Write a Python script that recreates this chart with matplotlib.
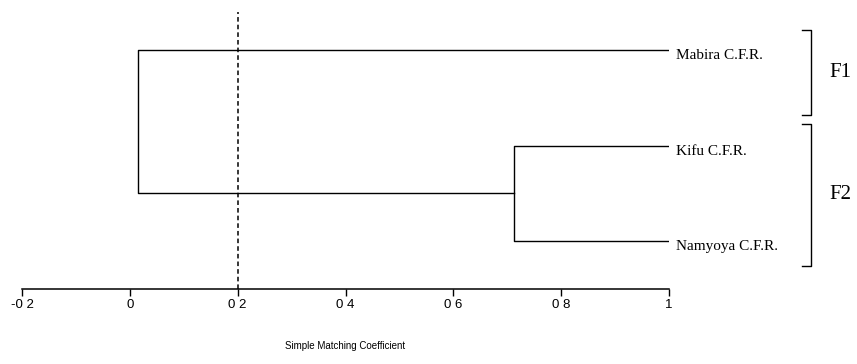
import matplotlib
matplotlib.use("Agg")
import matplotlib.pyplot as plt

# leaves, top to bottom
leaves = ["Mabira C.F.R.", "Kifu C.F.R.", "Namyoya C.F.R."]
leaf_y = [3, 2, 1]
# merge heights (simple matching coefficient)
merge_kifu_namyoya = 0.712
merge_all = 0.015
cut_level = 0.2
groups = ["F1", "F2"]
tick_vals = [-0.2, 0, 0.2, 0.4, 0.6, 0.8, 1.0]
tick_labels = ["-0 2", "0", "0 2", "0 4", "0 6", "0 8", "1"]

fig = plt.figure(figsize=(8.57, 3.64), dpi=100)
ax = fig.add_axes([22 / 857, 1 - 289 / 364, (669 - 22) / 857, (289 - 12) / 364])
ax.set_xlim(-0.2, 1.0)
ax.set_ylim(0.497, 3.40)

lw = 1.0
# Kifu + Namyoya cluster
y_k, y_n = leaf_y[1], leaf_y[2]
ax.plot([1.0, merge_kifu_namyoya, merge_kifu_namyoya, 1.0], [y_k, y_k, y_n, y_n], color="black", lw=lw)
y_mid = (y_k + y_n) / 2
# join with Mabira
y_m = leaf_y[0]
ax.plot([1.0, merge_all, merge_all, merge_kifu_namyoya], [y_m, y_m, y_mid, y_mid], color="black", lw=lw)

# cut-off line
ax.plot([cut_level, cut_level], [0.497, 3.40], color="black", lw=1.1, ls=(0, (3, 2)), clip_on=False)

for name, y in zip(leaves, leaf_y):
    ax.text(1.013, y - 0.06, name, family="Liberation Serif", fontsize=11,
            ha="left", va="center", clip_on=False)

# group brackets
bx, tick = 1.263, 0.016
brackets = [(3.21, 2.32), (2.23, 0.74)]
for (top, bot), g in zip(brackets, groups):
    ax.plot([bx - tick, bx, bx, bx - tick], [top, top, bot, bot], color="black", lw=lw, clip_on=False)
    ax.text(bx + 0.035, (top + bot) / 2, g, family="Liberation Serif", fontsize=15,
            ha="left", va="center", clip_on=False)

for s in ["top", "right", "left"]:
    ax.spines[s].set_visible(False)
ax.spines["bottom"].set_linewidth(1.1)
ax.set_yticks([])
ax.set_xticks(tick_vals)
ax.set_xticklabels(tick_labels, family="Liberation Sans", fontsize=9.5)
ax.tick_params(axis="x", direction="out", length=5, width=1.0, pad=2)
ax.set_xlabel("Simple Matching Coefficient", family="Liberation Sans", fontsize=7, labelpad=22)

fig.savefig("out.png", dpi=100)
